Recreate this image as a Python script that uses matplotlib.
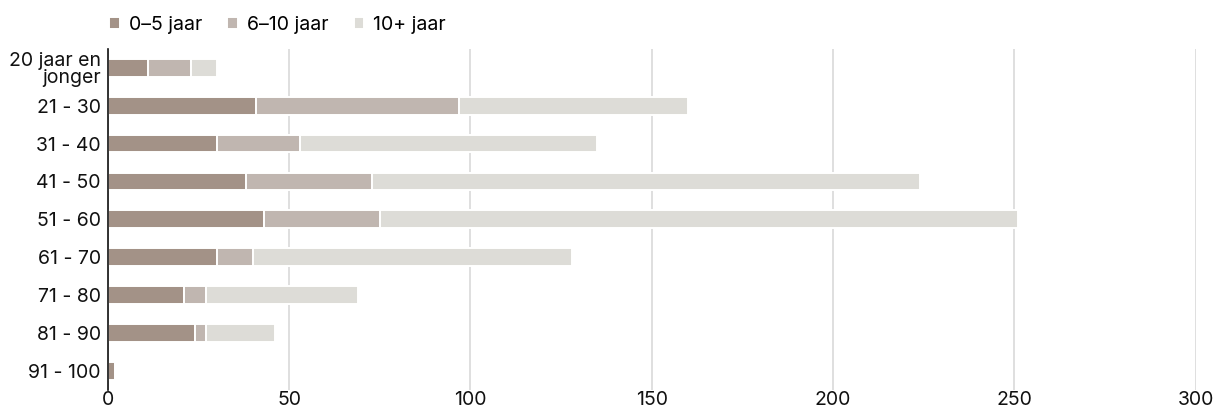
import numpy as np
import matplotlib
matplotlib.use("Agg")
from matplotlib import pyplot as plt

plt.rcParams['font.family'] = ['Inter', 'DejaVu Sans']

# Age groups (top to bottom) and employee counts per years of service
age_groups = ["20 jaar en\njonger", "21 - 30", "31 - 40", "41 - 50", "51 - 60",
              "61 - 70", "71 - 80", "81 - 90", "91 - 100"]
years_0_5 = [11, 41, 30, 38, 43, 30, 21, 24, 2]
years_6_10 = [12, 56, 23, 35, 32, 10, 6, 3, 0]
years_10_plus = [7, 63, 82, 151, 176, 88, 42, 19, 0]
series_names = ["0–5 jaar", "6–10 jaar", "10+ jaar"]
colors = ["#a39287", "#c0b6b0", "#dddcd7"]

fig = plt.figure(figsize=(12.13, 4.07), dpi=100)
ax = fig.add_axes([0.0888, 0.042, 0.8969, 0.838])

y = np.arange(len(age_groups))
left = np.zeros(len(age_groups))
handles = []
for vals, name, col in zip([years_0_5, years_6_10, years_10_plus], series_names, colors):
    vals = np.array(vals, dtype=float)
    b = ax.barh(y, vals, left=left, height=0.47, color=col,
                edgecolor="white", linewidth=1.4, label=name, zorder=3)
    handles.append(b)
    left += vals

ax.set_ylim(len(age_groups) - 0.5, -0.5)
ax.set_xlim(0, 300)
ax.set_xticks(np.arange(0, 301, 50))
ax.set_yticks(y)
ax.set_yticklabels(age_groups, fontsize=14, color="#111111", linespacing=0.95)
ax.tick_params(axis="x", labelsize=14, length=0, pad=1, colors="#111111")
ax.tick_params(axis="y", length=0, pad=5)

ax.grid(axis="x", color="#d6d6d6", linewidth=1.1, zorder=0)
ax.set_axisbelow(True)
for s in ["top", "right", "bottom"]:
    ax.spines[s].set_visible(False)
ax.spines["left"].set_color("#111111")
ax.spines["left"].set_linewidth(1.2)
ax.spines["left"].set_zorder(5)

fig.legend(handles=handles, labels=series_names, loc="upper left",
           bbox_to_anchor=(0.079, 0.995), ncol=3, frameon=False, fontsize=14,
           handlelength=0.55, handleheight=0.55, handletextpad=0.45,
           columnspacing=1.3, borderaxespad=0.3)

fig.savefig("out.png", dpi=100)
